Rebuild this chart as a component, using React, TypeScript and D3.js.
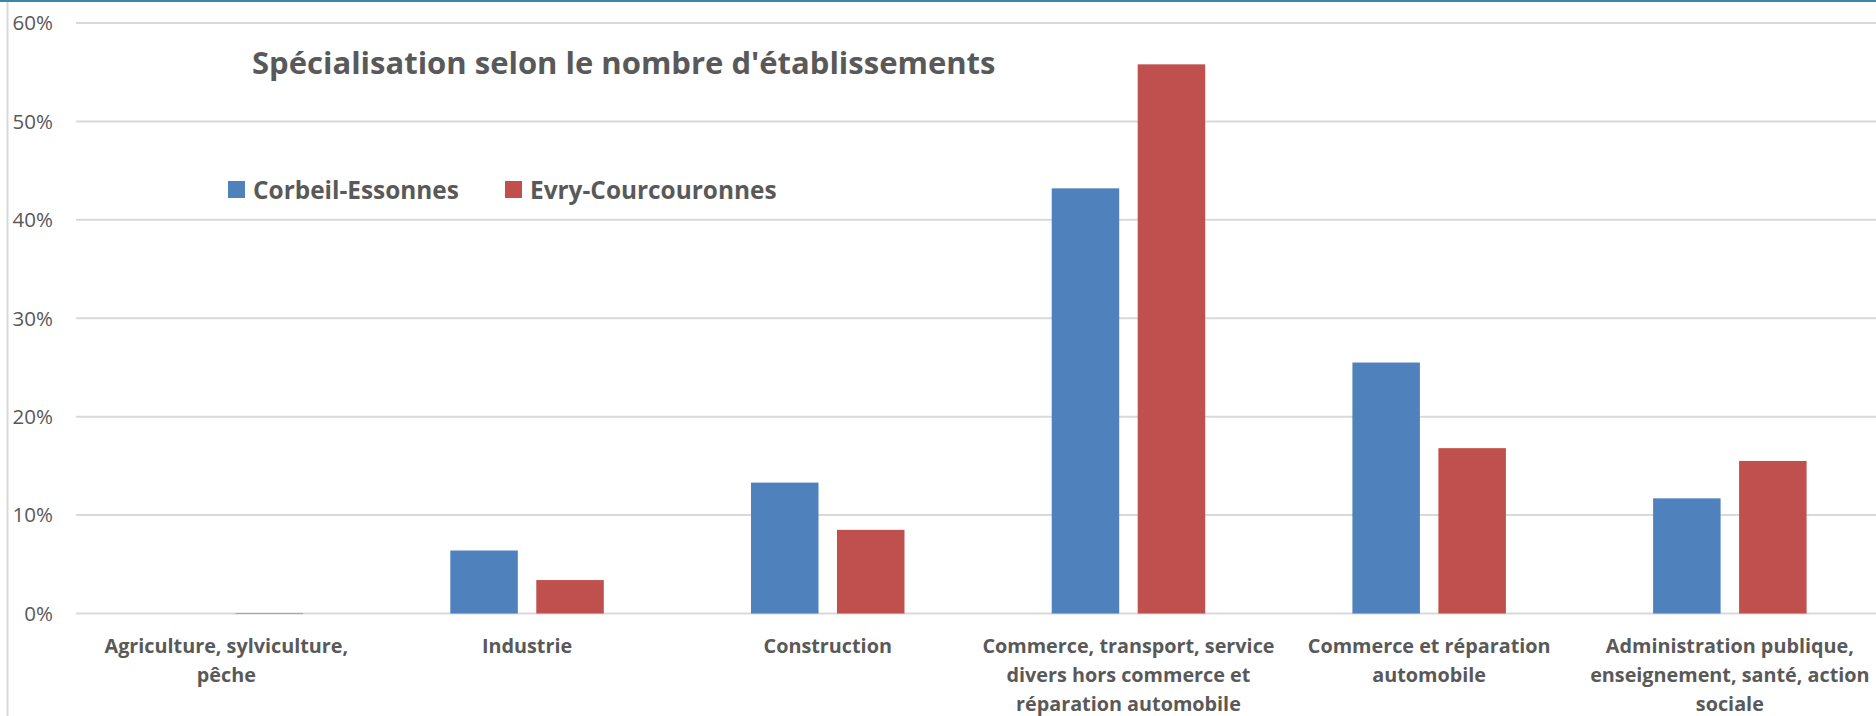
import React from "react";
import * as d3 from "d3";

const categories: string[][] = [
  ["Agriculture, sylviculture,", "pêche"],
  ["Industrie"],
  ["Construction"],
  ["Commerce, transport, service", "divers hors commerce et", "réparation automobile"],
  ["Commerce et réparation", "automobile"],
  ["Administration publique,", "enseignement, santé, action", "sociale"],
];
const seriesNames = ["Corbeil-Essonnes", "Evry-Courcouronnes"];
const corbeil = [0.0, 0.064, 0.133, 0.432, 0.255, 0.117];
const evry = [0.0005, 0.034, 0.085, 0.558, 0.168, 0.155];
const yTicks = [0, 0.1, 0.2, 0.3, 0.4, 0.5, 0.6];
const colors = ["#4F81BD", "#C0504D"];
const title = "Spécialisation selon le nombre d'établissements";

const W = 1876;
const H = 716;
const FONT = "'Open Sans', 'Noto Sans', sans-serif";
const TEXT = "#595959";

export default function App() {
  const plotLeft = 76;
  const plotRight = 76 + 6 * 300.7;
  const x0 = d3.scaleBand<number>().domain(d3.range(categories.length)).range([plotLeft, plotRight]).paddingInner(0).paddingOuter(0);
  const x1 = d3.scaleBand<number>().domain([0, 1]).range([0, x0.bandwidth()]).paddingInner(0.215).paddingOuter(0.856);
  const y = d3.scaleLinear().domain([0, 0.6]).range([613.5, 23]);
  const fmt = d3.format(".0%");
  const data = [corbeil, evry];

  return (
    <svg width={W} height={H} style={{ position: "absolute", left: 0, top: 0, background: "#fff" }} fontFamily={FONT}>
      <rect x={0} y={0} width={W} height={H} fill="#fff" />
      <line x1={0} x2={W} y1={1} y2={1} stroke="#3A87A6" strokeWidth={2} />
      <line x1={7.5} x2={7.5} y1={2} y2={H} stroke="#D9D9D9" strokeWidth={2} />
      {yTicks.map((t) => (
        <g key={t}>
          <line x1={plotLeft} x2={W} y1={y(t)} y2={y(t)} stroke="#D9D9D9" strokeWidth={2} />
          <text x={53} y={y(t)} dy="0.36em" textAnchor="end" fontSize={20.5} fill={TEXT}>
            {fmt(t)}
          </text>
        </g>
      ))}
      {data.map((vals, si) =>
        vals.map((v, ci) => (
          <rect
            key={`${si}-${ci}`}
            x={(x0(ci) as number) + (x1(si) as number)}
            y={y(v)}
            width={x1.bandwidth()}
            height={y(0) - y(v)}
            fill={colors[si]}
          />
        ))
      )}
      {categories.map((lines, ci) => (
        <text key={ci} textAnchor="middle" fontSize={19.8} fontWeight="bold" fill={TEXT}>
          {lines.map((l, li) => (
            <tspan key={li} x={(x0(ci) as number) + x0.bandwidth() / 2} y={652.5 + li * 29.3}>
              {l}
            </tspan>
          ))}
        </text>
      ))}
      <text x={252} y={74} fontSize={31} fontWeight="bold" fill={TEXT}>
        {title}
      </text>
      {seriesNames.map((s, i) => {
        const lx = [228, 505][i];
        return (
          <g key={s}>
            <rect x={lx} y={181} width={17} height={17} fill={colors[i]} />
            <text x={lx + 25} y={198.5} fontSize={24.4} fontWeight="bold" fill={TEXT}>
              {s}
            </text>
          </g>
        );
      })}
    </svg>
  );
}
